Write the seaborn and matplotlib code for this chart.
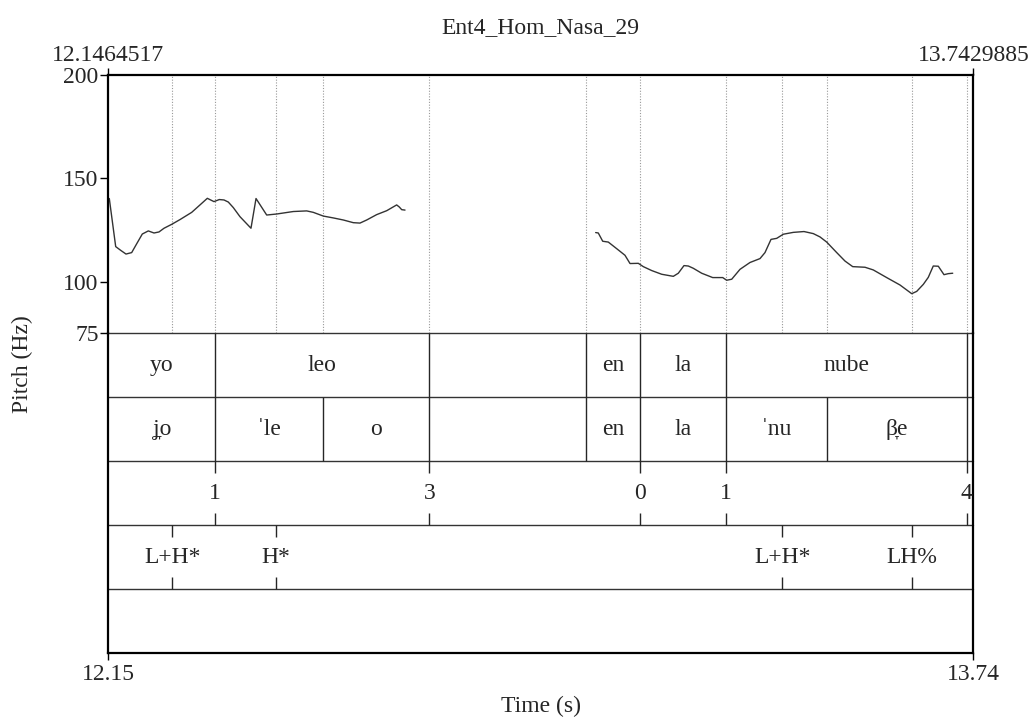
import pandas as pd
import matplotlib
matplotlib.use('Agg')
import matplotlib.pyplot as plt
import seaborn as sns

# time window of the selection
t_start = 12.1464517
t_end = 13.7429885

# pitch contour, first voiced stretch (yo leo)
pitch1_t = [12.1483, 12.1601, 12.1693, 12.1791, 12.1896, 12.1976, 12.2092, 12.2203,
            12.2308, 12.2400, 12.2493, 12.2635, 12.2788, 12.3004, 12.3157, 12.3292,
            12.3415, 12.3513, 12.3600, 12.3679, 12.3772, 12.3895, 12.4098, 12.4191,
            12.4388, 12.4573, 12.4879, 12.5126, 12.5248, 12.5433, 12.5617, 12.5802,
            12.5986, 12.6110, 12.6234, 12.6418, 12.6603, 12.6787, 12.6835, 12.6880,
            12.6941]
pitch1_hz = [140.3, 117.0, 115.2, 113.4, 114.1, 117.8, 123.1, 124.6,
             123.6, 124.1, 125.9, 127.8, 130.1, 133.6, 137.2, 140.4,
             138.8, 139.8, 139.6, 138.6, 135.9, 131.5, 125.9, 140.3,
             132.3, 132.8, 134.0, 134.3, 133.6, 131.8, 130.9, 129.9,
             128.6, 128.4, 129.9, 132.5, 134.4, 137.2, 136.2, 134.9,
             134.7]

# pitch contour, second voiced stretch (en la nube)
pitch2_t = [13.0460, 13.0508, 13.0590, 13.0693, 13.0848, 13.1001, 13.1094, 13.1247,
            13.1339, 13.1494, 13.1679, 13.1893, 13.1985, 13.2090, 13.2170, 13.2262,
            13.2417, 13.2620, 13.2805, 13.2878, 13.2971, 13.3124, 13.3308, 13.3493,
            13.3585, 13.3696, 13.3801, 13.3923, 13.4108, 13.4305, 13.4477, 13.4600,
            13.4724, 13.4909, 13.5062, 13.5204, 13.5431, 13.5584, 13.5831, 13.6077,
            13.6293, 13.6385, 13.6507, 13.6599, 13.6691, 13.6784, 13.6889, 13.6968,
            13.7050]
pitch2_hz = [123.8, 123.6, 119.6, 119.2, 116.0, 112.8, 108.8, 108.9,
             107.3, 105.4, 103.6, 102.6, 104.1, 107.8, 107.6, 106.5,
             104.1, 102.0, 102.0, 100.7, 101.2, 106.0, 109.3, 111.2,
             114.1, 120.5, 121.0, 123.0, 123.9, 124.3, 123.3, 121.7,
             119.2, 114.1, 110.0, 107.3, 107.0, 105.7, 102.0, 98.4,
             94.2, 95.3, 98.7, 102.1, 107.6, 107.5, 103.4, 103.9,
             104.1]

# textgrid tiers
word_bounds = [12.3439, 12.7389, 13.0281, 13.1284, 13.2865, 13.7308]
word_labels = ['yo', 'leo', '', 'en', 'la', 'nube', '']
syl_bounds = [12.3439, 12.5433, 12.7389, 13.0281, 13.1284, 13.2865, 13.4724, 13.7308]
syl_labels = ['ʝ̞o', 'ˈle', 'o', '', 'en', 'la', 'ˈnu', 'β̞e', '']
break_times = [12.3439, 12.7389, 13.1284, 13.2865, 13.7308]
break_labels = ['1', '3', '0', '1', '4']
tone_times = [12.2646, 12.4554, 13.3905, 13.6293]
tone_labels = ['L+H*', 'H*', 'L+H*', 'LH%']

pitch_ticks = [75, 100, 150, 200]

df1 = pd.DataFrame({'t': pitch1_t, 'hz': pitch1_hz, 'seg': 1})
df2 = pd.DataFrame({'t': pitch2_t, 'hz': pitch2_hz, 'seg': 2})
df = pd.concat([df1, df2], ignore_index=True)

sns.set_style('white')
plt.rcParams['font.family'] = ['Liberation Serif', 'DejaVu Serif']
plt.rcParams['font.size'] = 17

W, H = 1034, 717
x0, x1 = 108.3, 973.3
y_top, y_mid, y_bot = 75.3, 333.3, 653.3

fig = plt.figure(figsize=(W / 100, H / 100), dpi=100)
ax = fig.add_axes([x0 / W, 1 - y_mid / H, (x1 - x0) / W, (y_mid - y_top) / H])
tax = fig.add_axes([x0 / W, 1 - y_bot / H, (x1 - x0) / W, (y_bot - y_mid) / H])
tax.patch.set_visible(False)

# pitch panel
sns.lineplot(data=df, x='t', y='hz', units='seg', estimator=None, sort=False,
             color='0.2', lw=1.0, ax=ax, legend=False)
for t in sorted(set(word_bounds + syl_bounds + tone_times)):
    ax.axvline(t, color='0.6', ls=(0, (1, 1.5)), lw=0.8, zorder=0)
ax.set_xlim(t_start, t_end)
ax.set_ylim(75, 200)
ax.set_yticks(pitch_ticks, [str(v) for v in pitch_ticks])
ax.xaxis.tick_top()
ax.set_xticks([t_start, t_end], ['12.1464517', '13.7429885'])
ax.tick_params(axis='y', left=True, direction='out', length=6, width=1, color='k', pad=1)
ax.tick_params(axis='x', top=True, bottom=False, direction='out', length=5, width=1,
               color='k', pad=2)
ax.set_xlabel('')
ax.set_ylabel('')
for s in ['left', 'top', 'right']:
    ax.spines[s].set_linewidth(1.6)
    ax.spines[s].set_color('k')
ax.spines['bottom'].set_visible(False)

# tiers panel (tier 1 on top)
tax.set_xlim(t_start, t_end)
tax.set_ylim(0, 5)
tax.set_yticks([])
tax.set_xticks([t_start, t_end], ['12.15', '13.74'])
tax.tick_params(axis='x', bottom=True, direction='out', length=5, width=1, color='k', pad=3)
for s in ['left', 'bottom', 'right']:
    tax.spines[s].set_linewidth(1.6)
    tax.spines[s].set_color('k')
tax.spines['top'].set_visible(False)
for y in [1, 2, 3, 4, 5]:
    tax.axhline(y, color='0.2', lw=1.0, clip_on=False)


def interval_tier(bounds, labels, top):
    edges = [t_start] + bounds + [t_end]
    tax.vlines(bounds, top - 1, top, color='0.15', lw=1.0)
    for a, b, lab in zip(edges[:-1], edges[1:], labels):
        if lab:
            tax.text((a + b) / 2, top - 0.5, lab, ha='center', va='center')


def point_tier(times, labels, top):
    tick = 0.19
    tax.vlines(times, top - tick, top, color='0.15', lw=1.0)
    tax.vlines(times, top - 1, top - 1 + tick, color='0.15', lw=1.0)
    for t, lab in zip(times, labels):
        tax.text(t, top - 0.5, lab, ha='center', va='center')


interval_tier(word_bounds, word_labels, 5)
interval_tier(syl_bounds, syl_labels, 4)
point_tier(break_times, break_labels, 3)
point_tier(tone_times, tone_labels, 2)

xc = (x0 + x1) / 2 / W
fig.text(xc, 1 - 28 / H, 'Ent4_Hom_Nasa_29', ha='center', va='center')
fig.text(22 / W, 1 - 364 / H, 'Pitch (Hz)', rotation=90, ha='center', va='center')
fig.text(xc, 1 - 706 / H, 'Time (s)', ha='center', va='center')

fig.savefig('out.png', dpi=100)
